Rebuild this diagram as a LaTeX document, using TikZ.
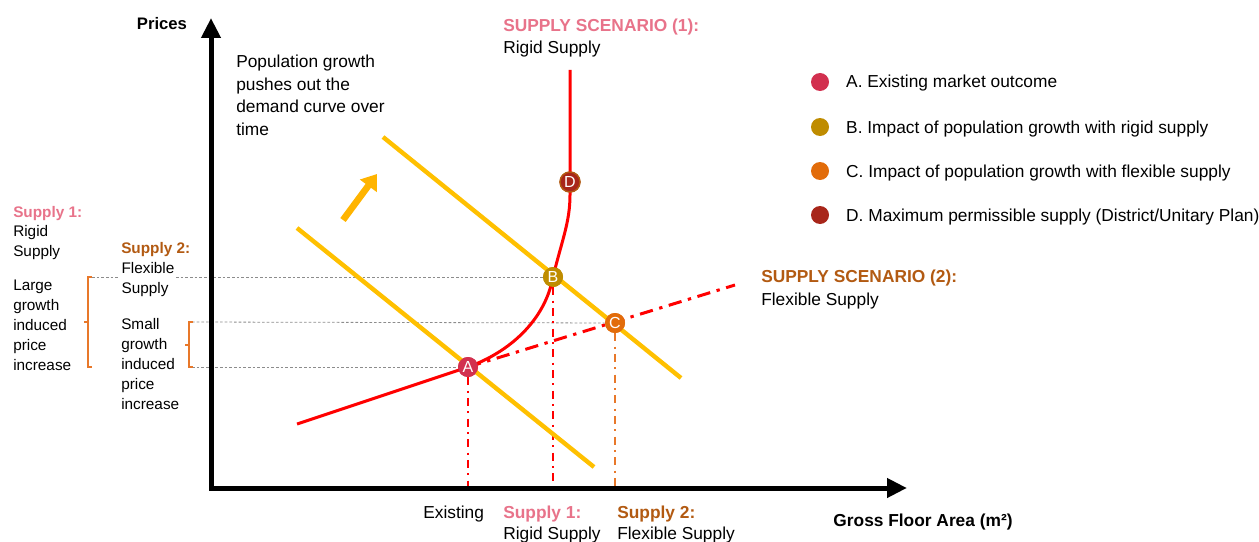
\documentclass[tikz,border=0pt]{standalone}
\usepackage{fontspec}
\setmainfont{Liberation Sans}
\usepackage{tikz}
\usetikzlibrary{positioning}
\usetikzlibrary{arrows.meta}
\definecolor{demandc}{HTML}{FFC000}
\definecolor{pinkc}{HTML}{E8738A}
\definecolor{brownc}{HTML}{B25A12}
\definecolor{colA}{HTML}{D2304F}
\definecolor{colB}{HTML}{BF8C00}
\definecolor{colC}{HTML}{E26C0A}
\definecolor{colD}{HTML}{A8261A}
\definecolor{bracketc}{HTML}{E8782A}
\definecolor{arrowc}{HTML}{FFB400}
\tikzset{axisline/.style={line width=3.75pt,-{Triangle[length=15pt,width=14pt]}},
  demand/.style={line width=3.3pt,demandc},
  supply/.style={line width=2.25pt,red},
  flexline/.style={line width=2.25pt,red,dash pattern=on 10pt off 5pt on 2.5pt off 5pt},
  drop/.style={line width=1.6pt,dash pattern=on 6pt off 4pt on 1.5pt off 4pt},
  guide/.style={black!45,line width=0.6pt,dash pattern=on 2pt off 1.5pt},
  brk/.style={bracketc,line width=0.9pt},
  ptnode/.style={circle,minimum size=15pt,inner sep=0pt,text=white,font=\fontsize{12}{12}\selectfont},
  legdot/.style={circle,minimum size=13.5pt,inner sep=0pt},
  lbl/.style={inner sep=0pt,font=\fontsize{13}{16.9}\selectfont},
  legtxt/.style={inner sep=0pt,text height=9.5pt,text depth=0.5pt,font=\fontsize{13}{16.9}\selectfont},
  sidetxt/.style={inner sep=0pt,align=left,font=\fontsize{11.5}{15}\selectfont}}

\begin{document}
\begin{tikzpicture}[x=0.75pt,y=-0.75pt]
\useasboundingbox (0,0) rectangle (1259,542);
% axes and curve end points
\coordinate (O) at (211,488);
\coordinate (ytip) at (211,18);
\coordinate (xtip) at (907,488);
\coordinate (d1a) at (297,228);
\coordinate (d1b) at (594,467);
\coordinate (d2a) at (383,137);
\coordinate (d2b) at (681,378);
\coordinate (s1a) at (297,424);
\coordinate (s1bend) at (570,195);
\coordinate (s1top) at (570,70);
\coordinate (s2end) at (735,285);

% market outcomes
\node[ptnode,fill=colA] (A) at (468,367) {A};
\node[ptnode,fill=colB] (B) at (553,277) {B};
\node[ptnode,fill=colC] (C) at (615,323) {C};
\node[ptnode,fill=colD,draw=brownc,line width=1pt] (D) at (570,182) {D};

% guide lines
\draw[guide] (92,277) -- (B);
\draw[guide] (192,322) -- (C);
\draw[guide] (192,367) -- (A);
\draw[drop,red] (A) -- (A |- O);
\draw[drop,red] (B) -- (B |- O);
\draw[drop,bracketc] (C) -- (C |- O);

% demand curves
\draw[demand] (d1a) -- (d1b);
\draw[demand] (d2a) -- (d2b);

% supply curves
\draw[flexline] (A.center) -- (s2end);
\draw[supply] (s1a) -- (A.center) .. controls (510,352) and (545,320) .. (B.center)
  .. controls (562,240) and (570,222) .. (s1bend) -- (s1top);

% redraw points on top
\node[ptnode,fill=colA] at (A) {A};
\node[ptnode,fill=colB] at (B) {B};
\node[ptnode,fill=colC] at (C) {C};
\node[ptnode,fill=colD,draw=brownc,line width=1pt] at (D) {D};

% brackets
\draw[brk] (92,277) -- (88,277) -- (88,367) -- (92,367) (88,322) -- (84,322);
\draw[brk] (193,322) -- (189,322) -- (189,367) -- (193,367) (189,345) -- (185,345);

% axes
\draw[axisline] (211,490) -- (ytip);
\draw[axisline] (209,488) -- (xtip);
\node[inner sep=0pt,font=\bfseries\fontsize{12.5}{15}\selectfont] (ylab) at (162,24) {Prices};
\node[lbl,font=\bfseries\fontsize{13}{16}\selectfont,anchor=base] (xlab) at (923,526) {Gross Floor Area (m\texttwosuperior)};

% shift arrow
\coordinate (arA) at (343,220);
\coordinate (arB) at (377,174);
\draw[arrowc,line width=5pt,-{Triangle[length=11pt,width=15pt]}] (arA) -- (arB);
\node[lbl,align=left,anchor=north west] (pop) at (236,55) {Population growth\\pushes out the\\demand curve over\\time};

% scenario titles
\node[lbl,anchor=base west,text=pinkc,font=\bfseries\fontsize{13}{16}\selectfont] (sc1) at (503,32) {SUPPLY SCENARIO (1):};
\node[lbl,anchor=base west] (sc1b) at (503,54) {Rigid Supply};
\node[lbl,anchor=base west,text=brownc,font=\bfseries\fontsize{13}{16}\selectfont] (sc2) at (761,282) {SUPPLY SCENARIO (2):};
\node[lbl,anchor=base west] (sc2b) at (761,305) {Flexible Supply};

% left side texts
\node[sidetxt,anchor=base west,text=pinkc,font=\bfseries\fontsize{11.5}{15}\selectfont] (l1) at (13,217) {Supply 1:};
\node[sidetxt,anchor=north west] (l1b) at (13,225) {Rigid\\Supply};
\node[sidetxt,anchor=north west] (l1c) at (13,280) {Large\\growth\\induced\\price\\increase};
\node[sidetxt,anchor=base west,text=brownc,font=\bfseries\fontsize{11.5}{15}\selectfont] (l2) at (121,253) {Supply 2:};
\node[sidetxt,anchor=north west,fill=white,inner xsep=1pt] (l2b) at (120,262) {Flexible\\Supply};
\node[sidetxt,anchor=north west] (l2c) at (121,318) {Small\\growth\\induced\\price\\increase};

% bottom texts
\node[lbl,anchor=base west] (bx) at (423,518) {Existing};
\node[lbl,anchor=base west,text=pinkc,font=\bfseries\fontsize{13}{16}\selectfont] (b1) at (503,518) {Supply 1:};
\node[lbl,anchor=base west] (b1b) at (503,539) {Rigid Supply};
\node[lbl,anchor=base west,text=brownc,font=\bfseries\fontsize{13}{16}\selectfont] (b2) at (617,518) {Supply 2:};
\node[lbl,anchor=base west] (b2b) at (617,539) {Flexible Supply};

% legend
\node[legdot,fill=colA] (LA) at (820,82) {};
\node[legdot,fill=colB] (LB) at (820,127) {};
\node[legdot,fill=colC] (LC) at (820,171) {};
\node[legdot,fill=colD] (LD) at (820,215) {};
\node[legtxt,right=12.5pt of LA] {A. Existing market outcome};
\node[legtxt,right=12.5pt of LB] {B. Impact of population growth with rigid supply};
\node[legtxt,right=12.5pt of LC] {C. Impact of population growth with flexible supply};
\node[legtxt,right=12.5pt of LD] {D. Maximum permissible supply (District/Unitary Plan)};
\end{tikzpicture}
\end{document}
